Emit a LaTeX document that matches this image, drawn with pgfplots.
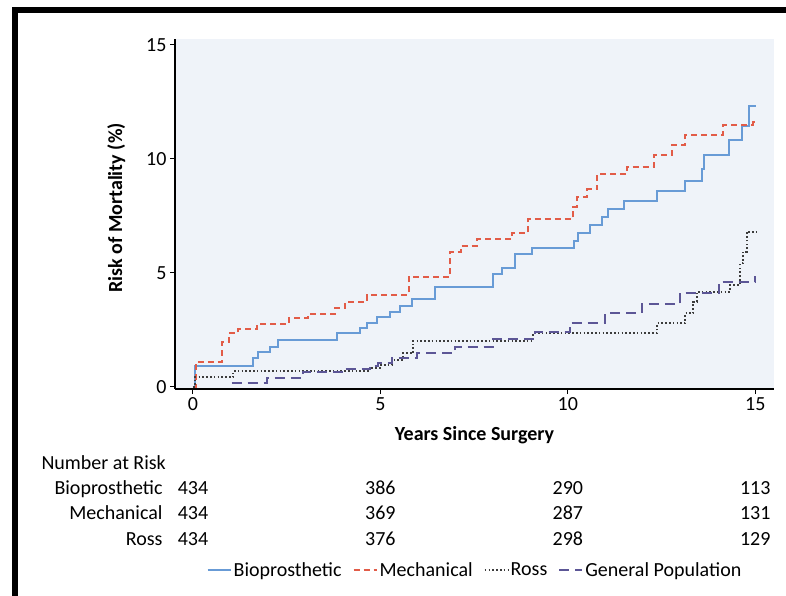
\documentclass[border=0pt]{standalone}
\usepackage{fontspec}
\setmainfont{Carlito}
\usepackage{pgfplots}
\pgfplotsset{compat=1.18}
\definecolor{bgcol}{RGB}{239,243,249}
\definecolor{bioc}{RGB}{104,155,214}
\definecolor{mechc}{RGB}{226,92,72}
\definecolor{rossc}{RGB}{60,60,60}
\definecolor{genc}{RGB}{92,86,150}
\begin{document}
\begin{tikzpicture}[font=\fontsize{20bp}{23bp}\selectfont]
\path[use as bounding box] (0,0) rectangle (786bp,-596bp);
\fill[black] (12bp,-7bp) rectangle (786bp,-13bp);
\fill[black] (12bp,-7bp) rectangle (18bp,-596bp);
\begin{axis}[
  at={(175bp,-389bp)}, anchor=south west,
  scale only axis, width=599bp, height=350bp,
  xmin=-0.48, xmax=15.5, ymin=-0.09, ymax=15.26,
  axis lines=left, axis line style={-, black, line width=1.2bp},
  axis background/.style={fill=bgcol},
  xtick={0,5,10,15}, ytick={0,5,10,15},
  tick align=outside, major tick length=5bp,
  tick style={black, line width=1bp},
  /pgf/number format/assume math mode=true,
  xlabel={\bfseries Years Since Surgery},
  ylabel={\bfseries Risk of Mortality (\%)},
  xlabel style={yshift=-9bp},
  ylabel style={yshift=14bp, xshift=6bp},
  clip=false,
  legend columns=4,
  legend style={at={(0.5008,-0.517)}, anchor=center, draw=none, fill=none,
    /tikz/every even column/.append style={column sep=9bp}},
  legend image code/.code={\draw[#1] (0bp,0bp) -- (23bp,0bp);},
]
\addplot[const plot, bioc, line width=2bp] coordinates {
(0,0) (0.05,0.92) (1.6,1.27) (1.74,1.54) (2.05,1.77) (2.28,2.06) (3.84,2.37)
(4.46,2.58) (4.63,2.82) (4.9,3.08) (5.26,3.3) (5.52,3.55) (5.84,3.86)
(6.46,4.39) (8.01,4.96) (8.24,5.23) (8.59,5.83) (9.04,6.08) (10.17,6.42)
(10.28,6.74) (10.6,7.1) (10.9,7.47) (11.08,7.79) (11.49,8.17) (12.38,8.61)
(13.13,9.04) (13.57,9.58) (13.62,10.17) (14.29,10.83) (14.64,11.45)
(14.82,12.3) (15.02,12.3)};
\addlegendentry{Bioprosthetic}
\addplot[const plot, mechc, line width=2bp, dash pattern=on 6bp off 4bp] coordinates {
(0,0) (0.08,1.11) (0.77,1.99) (0.95,2.37) (1.21,2.53) (1.7,2.76) (2.55,3.01)
(3.08,3.2) (3.79,3.45) (4.06,3.72) (4.63,4.03) (5.75,4.81) (6.86,5.94)
(7.15,6.2) (7.57,6.48) (8.5,6.74) (8.95,7.38) (10.15,7.9) (10.25,8.34)
(10.5,8.66) (10.77,9.34) (11.57,9.66) (12.29,10.17) (12.78,10.61)
(13.13,11.05) (14.14,11.49) (14.95,11.6) (15.02,11.6)};
\addlegendentry{Mechanical}
\addplot[const plot, rossc, line width=2bp, dash pattern=on 1.6bp off 2.2bp] coordinates {
(0,0) (0.05,0.42) (1.08,0.7) (4.72,0.85) (4.99,0.96) (5.3,1.2) (5.61,1.48)
(5.88,2.03) (9.08,2.37) (12.38,2.79) (13.13,3.23) (13.35,3.74) (13.44,4.18)
(14.33,4.47) (14.6,5.42) (14.68,5.94) (14.77,6.81) (15.02,6.81)};
\addlegendentry{Ross}
\addplot[const plot, genc, line width=2bp, dash pattern=on 10bp off 6bp] coordinates {
(1.03,0.19) (1.97,0.4) (2.94,0.67) (4.01,0.8) (4.72,0.93) (4.94,1.05)
(5.3,1.27) (5.97,1.47) (6.99,1.77) (8.01,2.09) (9.13,2.43) (10.06,2.82)
(11.0,3.23) (11.97,3.64) (13.0,4.14) (14.02,4.62) (15.0,4.87)};
\addlegendentry{General Population}
% Number at risk table
\node[anchor=base] at ([yshift=-105bp]axis cs:0,-0.09) {434};
\node[anchor=base] at ([yshift=-130bp]axis cs:0,-0.09) {434};
\node[anchor=base] at ([yshift=-156bp]axis cs:0,-0.09) {434};
\node[anchor=base] at ([yshift=-105bp]axis cs:5,-0.09) {386};
\node[anchor=base] at ([yshift=-130bp]axis cs:5,-0.09) {369};
\node[anchor=base] at ([yshift=-156bp]axis cs:5,-0.09) {376};
\node[anchor=base] at ([yshift=-105bp]axis cs:10,-0.09) {290};
\node[anchor=base] at ([yshift=-130bp]axis cs:10,-0.09) {287};
\node[anchor=base] at ([yshift=-156bp]axis cs:10,-0.09) {298};
\node[anchor=base] at ([yshift=-105bp]axis cs:15,-0.09) {113};
\node[anchor=base] at ([yshift=-130bp]axis cs:15,-0.09) {131};
\node[anchor=base] at ([yshift=-156bp]axis cs:15,-0.09) {129};
\end{axis}
\node[anchor=base west] at (38bp,-469bp) {Number at Risk};
\node[anchor=base east] at (166bp,-494bp) {Bioprosthetic};
\node[anchor=base east] at (166bp,-519bp) {Mechanical};
\node[anchor=base east] at (166bp,-545bp) {Ross};
\end{tikzpicture}
\end{document}
